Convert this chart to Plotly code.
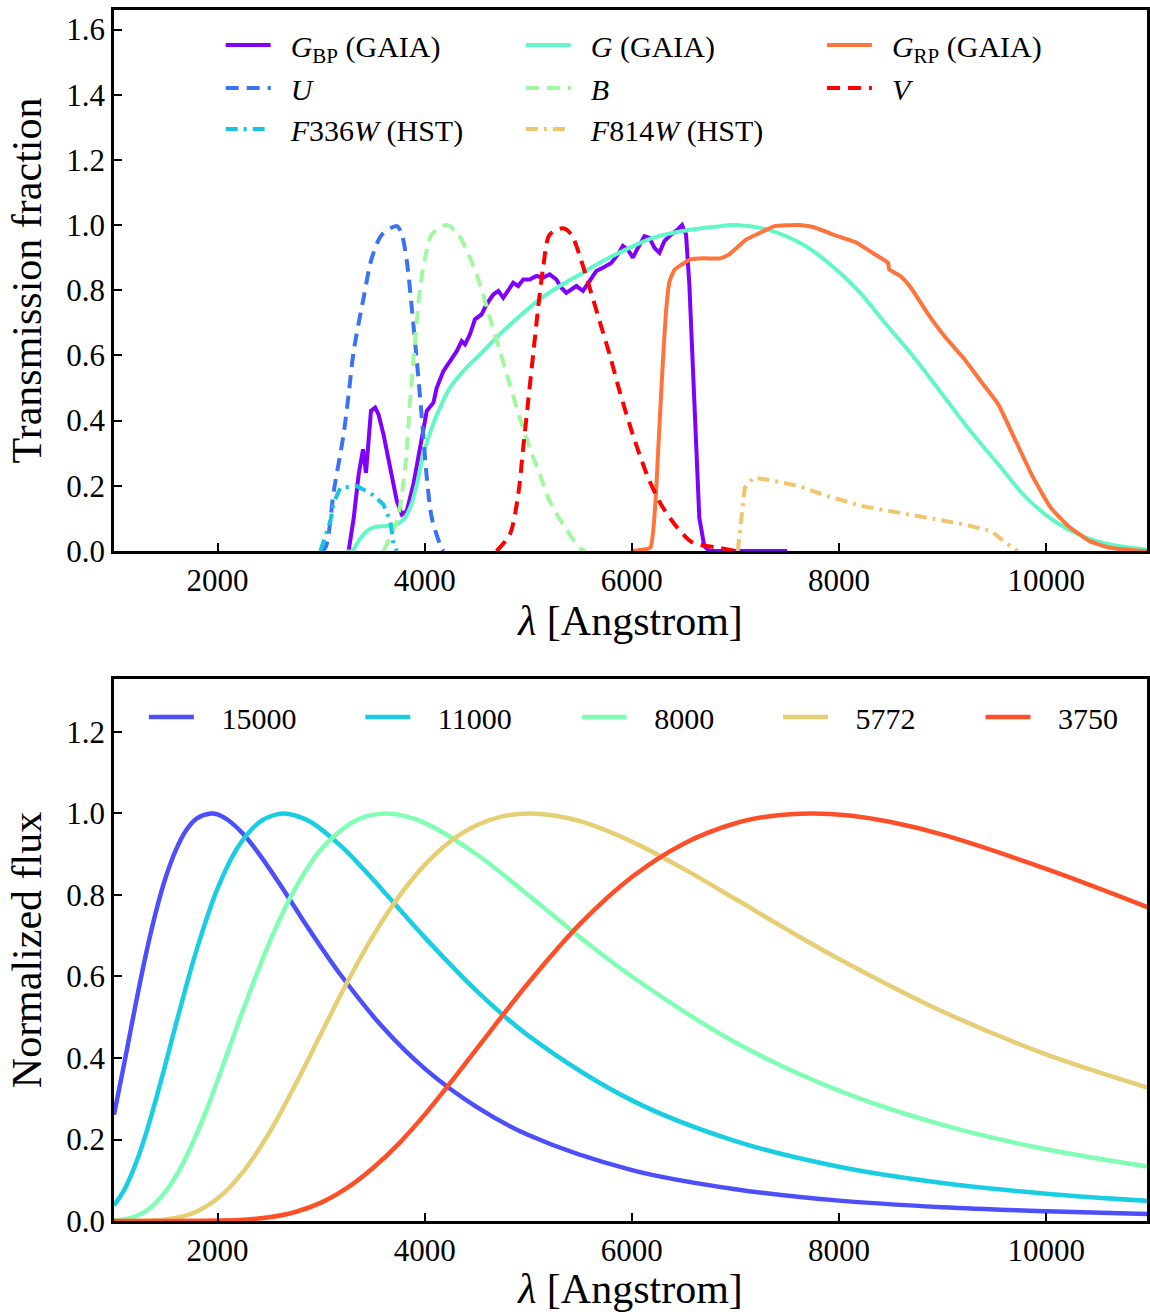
import plotly.graph_objects as go

FONT = "Liberation Serif"

# ---------------- top panel: filter transmission curves ----------------
GBP_WAVE = [3265, 3314, 3362, 3404, 3433, 3458, 3481, 3522, 3554, 3602,
            3667, 3731, 3779, 3827, 3891, 3956, 4020, 4084, 4116, 4180,
            4244, 4309, 4357, 4389, 4437, 4485, 4549, 4597, 4662, 4710,
            4758, 4806, 4854, 4903, 4951, 5014, 5079, 5143, 5207, 5271,
            5319, 5367, 5416, 5464, 5528, 5592, 5656, 5720, 5801, 5865,
            5913, 5961, 6009, 6058, 6122, 6170, 6218, 6266, 6314, 6378,
            6442, 6484, 6523, 6555, 6587, 6619, 6651, 6699, 6747, 7000, 7500]
GBP_TRANS = [0.0, 0.10, 0.235, 0.312, 0.24, 0.337, 0.43, 0.44, 0.419, 0.358,
             0.256, 0.153, 0.112, 0.123, 0.205, 0.317, 0.43, 0.455, 0.501, 0.552,
             0.583, 0.613, 0.644, 0.634, 0.665, 0.711, 0.726, 0.757, 0.787, 0.798,
             0.777, 0.802, 0.823, 0.813, 0.833, 0.833, 0.844, 0.839, 0.849, 0.833,
             0.808, 0.792, 0.802, 0.813, 0.798, 0.828, 0.859, 0.869, 0.884, 0.91,
             0.936, 0.925, 0.90, 0.93, 0.966, 0.961, 0.93, 0.915, 0.951, 0.971,
             0.986, 1.0, 0.971, 0.818, 0.562, 0.307, 0.102, 0.015, 0.0, 0.0, 0.0]

G_WAVE = [3250, 3298, 3362, 3442, 3522, 3634, 3731, 3795, 3859, 3924, 3988,
          4068, 4148, 4244, 4373, 4533, 4726, 4918, 5111, 5303, 5528, 5752,
          5977, 6202, 6491, 6811, 7005, 7310, 7647, 7917, 8187, 8457, 8727,
          8997, 9268, 9538, 9808, 10078, 10348, 10618, 10955, 11000]
G_TRANS = [0.0, 0.0, 0.031, 0.061, 0.074, 0.077, 0.082, 0.097, 0.133, 0.205, 0.297,
           0.378, 0.44, 0.501, 0.552, 0.603, 0.665, 0.721, 0.772, 0.813, 0.854, 0.895,
           0.93, 0.961, 0.982, 0.995, 1.0, 0.986, 0.941, 0.879, 0.798, 0.695, 0.593,
           0.481, 0.368, 0.266, 0.164, 0.092, 0.046, 0.02, 0.005, 0.004]

GRP_WAVE = [6000, 6178, 6228, 6262, 6296, 6330, 6364, 6414, 6482, 6566, 6701,
            6853, 6938, 7106, 7275, 7377, 7613, 7749, 7985, 8170, 8322, 8474,
            8484, 8592, 8694, 8862, 9031, 9200, 9369, 9538, 9707, 9875, 10044,
            10213, 10415, 10618, 10923, 11000]
GRP_TRANS = [0.0, 0.01, 0.153, 0.358, 0.562, 0.736, 0.828, 0.864, 0.879, 0.895, 0.898,
             0.898, 0.91, 0.956, 0.982, 0.997, 1.0, 0.994, 0.966, 0.946, 0.915, 0.884,
             0.864, 0.844, 0.808, 0.726, 0.654, 0.593, 0.521, 0.45, 0.337, 0.225, 0.133,
             0.077, 0.031, 0.01, 0.0, 0.0]

U_WAVE = [2990, 3041, 3122, 3217, 3265, 3314, 3410, 3490, 3587, 3731,
          3779, 3827, 3875, 3924, 3972, 4020, 4068, 4148, 4180]
U_TRANS = [0.0, 0.01, 0.184, 0.358, 0.48, 0.613, 0.777, 0.90, 0.971, 0.997,
           0.971, 0.89, 0.746, 0.583, 0.409, 0.225, 0.102, 0.02, 0.0]

B_WAVE = [3600, 3731, 3811, 3859, 3907, 3956, 4004, 4068, 4212, 4325, 4437,
          4533, 4629, 4726, 4822, 4918, 5014, 5111, 5207, 5335, 5496, 5550]
B_TRANS = [0.0, 0.092, 0.256, 0.46, 0.644, 0.808, 0.90, 0.971, 1.0, 0.971, 0.90,
           0.818, 0.716, 0.613, 0.511, 0.409, 0.317, 0.235, 0.153, 0.082, 0.01, 0.0]

V_WAVE = [4694, 4822, 4903, 4951, 4999, 5047, 5095, 5143, 5207, 5335, 5416, 5512,
          5592, 5688, 5785, 5881, 5977, 6073, 6170, 6282, 6426, 6587, 6844, 7000]
V_TRANS = [0.0, 0.051, 0.174, 0.317, 0.46, 0.603, 0.746, 0.869, 0.971, 0.99, 0.971, 0.89,
           0.808, 0.706, 0.603, 0.491, 0.389, 0.297, 0.215, 0.143, 0.077, 0.026, 0.01, 0.0]

F336W_WAVE = [2993, 3089, 3122, 3185, 3346, 3490, 3602, 3667, 3699, 3731]
F336W_TRANS = [0.0, 0.092, 0.148, 0.194, 0.199, 0.174, 0.143, 0.092, 0.02, 0.0]

F814W_WAVE = [7022, 7039, 7056, 7090, 7174, 7343, 7613, 7883, 8221, 8558,
              8896, 9200, 9470, 9605, 9723]
F814W_TRANS = [0.0, 0.051, 0.112, 0.194, 0.225, 0.217, 0.199, 0.169, 0.138, 0.118,
               0.097, 0.082, 0.061, 0.026, 0.0]

# ---------------- bottom panel: normalised black-body spectra ----------------
T15000_WAVE = [1000, 1100, 1200, 1300, 1400, 1500, 1600, 1700, 1800, 1932, 2000,
               2100, 2250, 2400, 2600, 2800, 3000, 3200, 3600, 4000, 4500, 5000,
               6000, 7000, 8000, 9000, 10000, 11000]
T15000_FLUX = [0.261, 0.388, 0.520, 0.645, 0.754, 0.844, 0.912, 0.960, 0.988, 1.000, 0.998,
               0.984, 0.949, 0.901, 0.827, 0.748, 0.672, 0.600, 0.474, 0.374, 0.280, 0.211,
               0.125, 0.078, 0.050, 0.034, 0.024, 0.017]

T11000_WAVE = [1000, 1100, 1200, 1300, 1400, 1500, 1600, 1700, 1800, 2000, 2200,
               2400, 2500, 2634, 2750, 2900, 3200, 3400, 3600, 4000, 4500, 5000,
               6000, 7000, 8000, 9000, 10000, 11000]
T11000_FLUX = [0.038, 0.077, 0.134, 0.207, 0.294, 0.388, 0.485, 0.579, 0.667, 0.816, 0.919,
               0.978, 0.992, 1.000, 0.995, 0.979, 0.918, 0.866, 0.810, 0.696, 0.565, 0.455,
               0.296, 0.196, 0.133, 0.093, 0.067, 0.049]

T8000_WAVE = [1000, 1100, 1200, 1300, 1400, 1500, 1600, 1700, 1800, 1900, 2000,
              2250, 2500, 2750, 3000, 3300, 3450, 3622, 3800, 4000, 4500, 5000,
              5500, 6000, 7000, 8000, 9000, 10000, 11000]
T8000_FLUX = [0.001, 0.004, 0.011, 0.023, 0.044, 0.073, 0.111, 0.159, 0.215, 0.277, 0.345,
              0.520, 0.683, 0.816, 0.912, 0.978, 0.994, 1.000, 0.994, 0.977, 0.900, 0.800,
              0.696, 0.600, 0.438, 0.320, 0.236, 0.176, 0.133]

T5772_WAVE = [1000, 1500, 1750, 2000, 2250, 2500, 2750, 3000, 3250, 3500, 3750,
              4000, 4250, 4500, 4750, 5021, 5250, 5500, 6000, 6500, 7000, 7500,
              8000, 9000, 10000, 11000]
T5772_FLUX = [0.0, 0.004, 0.018, 0.055, 0.122, 0.217, 0.334, 0.460, 0.585, 0.699, 0.796,
              0.874, 0.932, 0.971, 0.993, 1.000, 0.995, 0.981, 0.931, 0.864, 0.790, 0.715,
              0.643, 0.514, 0.409, 0.326]

T3750_WAVE = [1000, 1500, 2000, 2250, 2500, 2750, 3000, 3250, 3500, 3750, 4000,
              4250, 4500, 5000, 5500, 6000, 6500, 7000, 7350, 7728, 8100, 8500,
              9000, 10000, 11000]
T3750_FLUX = [0.0, 0.0, 0.001, 0.003, 0.009, 0.022, 0.045, 0.081, 0.130, 0.190, 0.261,
              0.340, 0.422, 0.584, 0.729, 0.844, 0.926, 0.976, 0.994, 1.000, 0.995, 0.979,
              0.948, 0.864, 0.768]

TOP_NAMES = ["<i>G</i><sub>BP</sub> (GAIA)", "<i>G</i> (GAIA)", "<i>G</i><sub>RP</sub> (GAIA)",
             "<i>U</i>", "<i>B</i>", "<i>V</i>",
             "<i>F</i>336<i>W</i> (HST)", "<i>F</i>814<i>W</i> (HST)"]
BB_NAMES = ["15000", "11000", "8000", "5772", "3750"]

X_TICKS = [2000, 4000, 6000, 8000, 10000]
X_TICKTEXT = ["2000", "4000", "6000", "8000", "10000"]
Y_TICKS_TOP = [0.0, 0.2, 0.4, 0.6, 0.8, 1.0, 1.2, 1.4, 1.6]
Y_TICKS_BOT = [0.0, 0.2, 0.4, 0.6, 0.8, 1.0, 1.2]

DASH = "13px,8px"
DASHDOT = "12px,6px,3px,6px"
NB = "\u00a0"

W, H = 1150, 1312
ML, MR, MT, MB = 114, 0, 10, 91
PW, PH = W - ML - MR, H - MT - MB


def px_x(p):
    return (p - ML) / PW


def px_y(p):
    return (H - MB - p) / PH


def legend_at(line_start, yp):
    return dict(x=px_x(line_start - 5), y=px_y(yp), xref="paper", yref="paper",
                xanchor="left", yanchor="middle", orientation="h",
                font=dict(family=FONT, size=30, color="black"),
                bgcolor="rgba(0,0,0,0)", borderwidth=0, itemwidth=45,
                tracegroupgap=0, itemclick=False, itemdoubleclick=False)


# legend slots (line start x, row y) in pixels
TOP_SLOTS = [(226, 45), (527, 45), (829, 45),
             (226, 88), (527, 88), (829, 88),
             (226, 129), (527, 129)]
BOT_SLOTS = [(149, 717), (366, 717), (583, 717), (785, 717), (988, 717)]

fig = go.Figure()

top_series = [
    (GBP_WAVE, GBP_TRANS, "#8000ff", "solid", "linear", 0),
    (G_WAVE, G_TRANS, "#61f8c6", "solid", "spline", 1.0),
    (GRP_WAVE, GRP_TRANS, "#ff743b", "solid", "spline", 0.4),
    (U_WAVE, U_TRANS, "#3a74f4", DASH, "spline", 0.8),
    (B_WAVE, B_TRANS, "#a0f8a0", DASH, "spline", 0.8),
    (V_WAVE, V_TRANS, "#ff0000", DASH, "spline", 0.8),
    (F336W_WAVE, F336W_TRANS, "#19c4e3", DASHDOT, "linear", 0),
    (F814W_WAVE, F814W_TRANS, "#f0c56d", DASHDOT, "linear", 0),
]
legends = {}
k = 1
for (xw, yt, col, dash, shape, sm), name, slot in zip(top_series, TOP_NAMES, TOP_SLOTS):
    key = "legend" if k == 1 else f"legend{k}"
    legends[key] = legend_at(*slot)
    line = dict(color=col, width=4, dash=dash, shape=shape)
    if shape == "spline":
        line["smoothing"] = sm
    fig.add_trace(go.Scatter(x=xw, y=yt, mode="lines", name=NB + NB + name,
                             line=line, xaxis="x", yaxis="y", legend=key))
    k += 1

bb_series = [
    (T15000_WAVE, T15000_FLUX, "#4d4ffc"),
    (T11000_WAVE, T11000_FLUX, "#19cee3"),
    (T8000_WAVE, T8000_FLUX, "#80ffb4"),
    (T5772_WAVE, T5772_FLUX, "#e6ce74"),
    (T3750_WAVE, T3750_FLUX, "#ff4f28"),
]
for (xw, fl, col), name, slot in zip(bb_series, BB_NAMES, BOT_SLOTS):
    key = f"legend{k}"
    legends[key] = legend_at(*slot)
    fig.add_trace(go.Scatter(x=xw, y=fl, mode="lines", name=NB + NB + NB + name,
                             line=dict(color=col, width=4.5, shape="spline", smoothing=1.0),
                             xaxis="x2", yaxis="y2", legend=key))
    k += 1

axis_common = dict(showline=True, linewidth=2.5, linecolor="black", mirror=True,
                   ticks="inside", ticklen=8, tickwidth=1.5, tickcolor="black",
                   showgrid=False, zeroline=False,
                   tickfont=dict(family=FONT, size=31, color="black"))

xr = [1000, 1000 + PW / 0.103875]
title_font = dict(family=FONT, size=42, color="black")

fig.update_layout(
    width=W, height=H, margin=dict(l=ML, r=MR, t=MT, b=MB),
    paper_bgcolor="white", plot_bgcolor="white",
    font=dict(family=FONT, color="black"),
    xaxis=dict(domain=[0, 1], anchor="y", range=xr, tickvals=X_TICKS, ticktext=X_TICKTEXT,
               title=dict(text="<i>λ</i> [Angstrom]", font=title_font, standoff=6),
               **axis_common),
    yaxis=dict(domain=[px_y(551), 1], anchor="x", range=[0, 1.66],
               tickvals=Y_TICKS_TOP, tickformat=".1f",
               title=dict(text="Transmission fraction", font=title_font, standoff=12),
               **axis_common),
    xaxis2=dict(domain=[0, 1], anchor="y2", range=xr, tickvals=X_TICKS, ticktext=X_TICKTEXT,
                title=dict(text="<i>λ</i> [Angstrom]", font=title_font, standoff=12),
                **axis_common),
    yaxis2=dict(domain=[0, px_y(679)], anchor="x2", range=[0, 1.33],
                tickvals=Y_TICKS_BOT, tickformat=".1f",
                title=dict(text="Normalized flux", font=title_font, standoff=12),
                **axis_common),
    showlegend=True,
    **legends,
)

fig.write_html("out.html")
